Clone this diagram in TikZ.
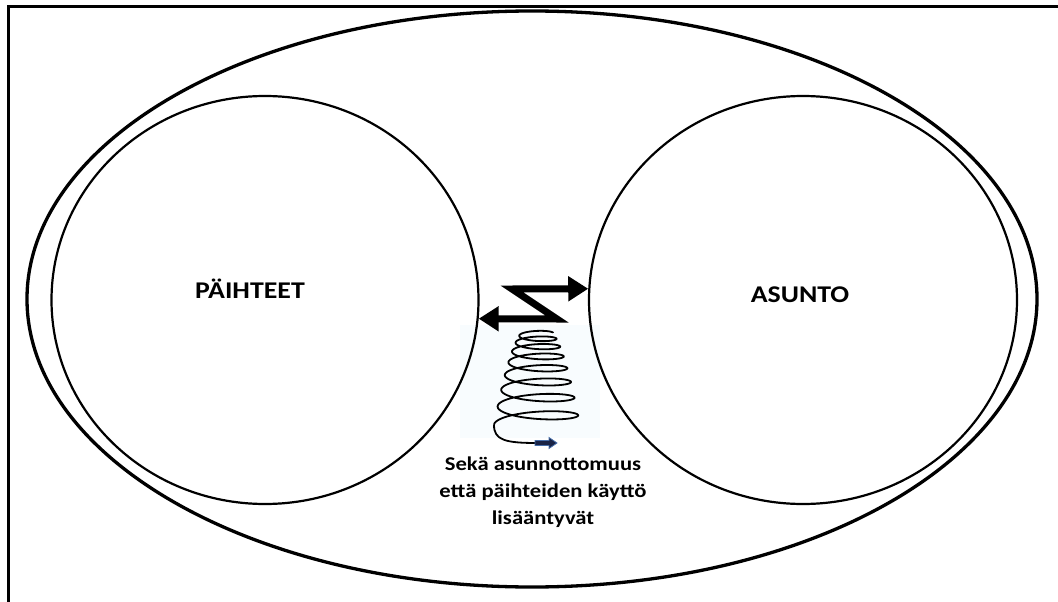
\documentclass[tikz,border=0pt]{standalone}
\usepackage{fontspec}
\setmainfont{Carlito}[FakeStretch=1.16, BoldFont={Carlito Bold}]
\usetikzlibrary{shapes.geometric,arrows.meta}
\definecolor{haze}{RGB}{248,252,254}
\definecolor{tipfill}{RGB}{25,35,70}
\definecolor{tipedge}{RGB}{70,110,170}
\begin{document}
\begin{tikzpicture}[x=1pt,y=-1pt,
  ring/.style={draw, ellipse, line width=2.2pt, inner sep=0pt, minimum height=408pt},
  title/.style={font=\bfseries\fontsize{24}{28}\selectfont, anchor=base, inner sep=0pt},
  caption/.style={font=\bfseries\fontsize{19.5}{27}\selectfont, align=center, anchor=base, inner sep=0pt},
  zarrow/.style={line width=7pt, line join=miter,
    {Triangle[length=20pt,width=24pt]}-{Triangle[length=20pt,width=24pt]}},
  coil/.style={line width=1.8pt, line join=round}
]
\useasboundingbox (0,0) rectangle (1058,602);

% page frame (top and left edges)
\draw[line width=3pt, line join=miter] (1058,6.5) -- (8.8,6.5) -- (8.8,602);

% faint backdrop behind the coil
\fill[haze] (460,325) rectangle (600,438);

% enclosing ellipse and the two circles
\node[draw, ellipse, line width=3.3pt, inner sep=0pt,
      minimum width=1010pt, minimum height=576pt] (whole) at (532,299) {};
\node[ring, minimum width=427pt] (pL) at (265,300) {};
\node[ring, minimum width=428pt] (pR) at (803,300) {};

\node[title] (tL) at (250,298) {PÄIHTEET};
\node[title] (tR) at (800,302) {ASUNTO};

% zig-zag double arrow between the circles
\draw[zarrow] (pL.-5) -- (557,319) -- (512,289) -- (pR.177);

% widening coil, parameter s runs from top (0) to bottom (1)
\draw[coil] plot[domain=0:1, samples=600, smooth, variable=\s]
  ({537+(16+27*\s)*cos(2700*\s)},
   {333+92*(0.4*\s+0.6*\s*\s)-0.2*(16+27*\s)*sin(2700*\s)});
\coordinate (cEnd) at (494,425);
\coordinate (cTail) at (537,443);
\draw[coil] (cEnd) .. controls (494,440) and (505,443) .. (cTail);
\draw[fill=tipfill, draw=tipedge, line width=0.8pt, line join=miter]
  (535,440.5) -- (549,440.5) -- (549,437.5) -- (557,443) -- (549,448.5)
  -- (549,445.5) -- (535,445.5) -- cycle;

% caption; the node's base is the baseline of its last line
\node[caption] (cap) at (543,524)
  {Sekä asunnottomuus\\että päihteiden käyttö\\lisääntyvät};
\end{tikzpicture}
\end{document}
